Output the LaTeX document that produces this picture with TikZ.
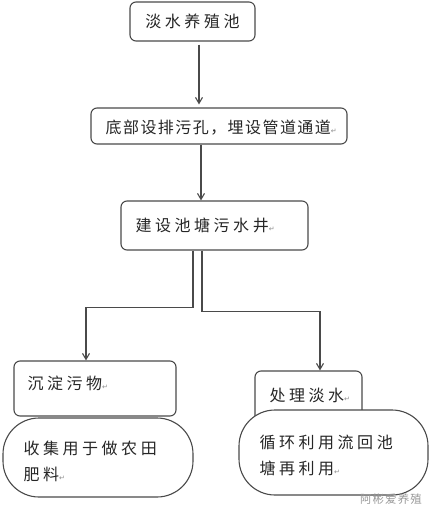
\documentclass[tikz,border=0pt]{standalone}
\usepackage{fontspec}
\newfontfamily\cjk[LetterSpace=22]{Noto Sans CJK SC}
\newfontfamily\cjkn[LetterSpace=9]{Noto Sans CJK SC}
\newfontfamily\symfont{DejaVu Sans}
\newcommand{\pmark}{{\symfont\fontsize{7}{7}\selectfont\color{black!45}↵}}
\usetikzlibrary{positioning,arrows.meta}
\definecolor{linegray}{HTML}{4A4A4A}

\begin{document}
\begin{tikzpicture}[x=1pt, y=-1pt,
    box/.style={draw=linegray, line width=1.1pt, rounded corners=6pt, fill=white, inner sep=0pt},
    pill/.style={box, rounded corners=36pt},
    txt/.style={inner sep=0pt, text=black!85, font=\cjk\fontsize{16}{26}\selectfont, align=left},
    arr/.style={draw=linegray, line width=1.1pt, -{Straight Barb[length=6pt,width=7pt]}}]
    \useasboundingbox (0,0) rectangle (430,516);

    % Vakken bovenaan
    \node[box, txt, minimum width=125pt, minimum height=39pt] (pond) at (192.5,21.5) {淡水养殖池};
    \node[box, minimum width=256pt, minimum height=36pt] (drain) at (219,126) {};
    \node[txt, font=\cjkn\fontsize{16}{26}\selectfont, right=15pt of drain.west, yshift=-2pt] (draintxt) {底部设排污孔，埋设管道通道\pmark};
    \node[box, minimum width=187pt, minimum height=49pt] (well) at (214.5,225.5) {};
    \node[txt, right=15pt of well.west] (welltxt) {建设池塘污水井\pmark};

    % Linker tak
    \node[box, minimum width=162pt, minimum height=55pt] (sludge) at (95,388.5) {};
    \node[txt, right=14pt of sludge.west, yshift=5.5pt] (sludgetxt) {沉淀污物\pmark};
    \node[pill, minimum width=190pt, minimum height=79pt] (fert) at (98,457.5) {};
    \node[txt, right=21pt of fert.west, yshift=-3.5pt] (ferttxt) {收集用于做农田\\肥料\pmark};

    % Rechter tak
    \node[box, minimum width=107pt, minimum height=54pt] (treat) at (308.5,398) {};
    \node[txt, right=15pt of treat.west, yshift=3pt] (treattxt) {处理淡水\pmark};
    \node[pill, minimum width=189pt, minimum height=85pt] (reuse) at (333.5,452.5) {};
    \node[txt, right=21pt of reuse.west, yshift=-2.5pt] (reusetxt) {循环利用流回池\\塘再利用\pmark};

    % Pijlen
    \draw[arr, shorten <=3pt, shorten >=3pt] ([xshift=6.5pt]pond.south) -- ([xshift=6.5pt]pond.south |- drain.north);
    \draw[arr] ([xshift=-18pt]drain.south) -- ([xshift=-18pt]drain.south |- well.north);
    \draw[arr] ([xshift=-21.5pt]well.south) -- ++(0,57) -| ([xshift=-9pt]sludge.north);
    \draw[arr] ([xshift=-12.5pt]well.south) -- ++(0,61) -| ([xshift=11.5pt]treat.north);

    % Watermerk
    \node[inner sep=0pt, text=black!40, font=\cjkn\fontsize{11.5}{12}\selectfont] (mark) at (391,499) {阿彬爱养殖};
\end{tikzpicture}
\end{document}
